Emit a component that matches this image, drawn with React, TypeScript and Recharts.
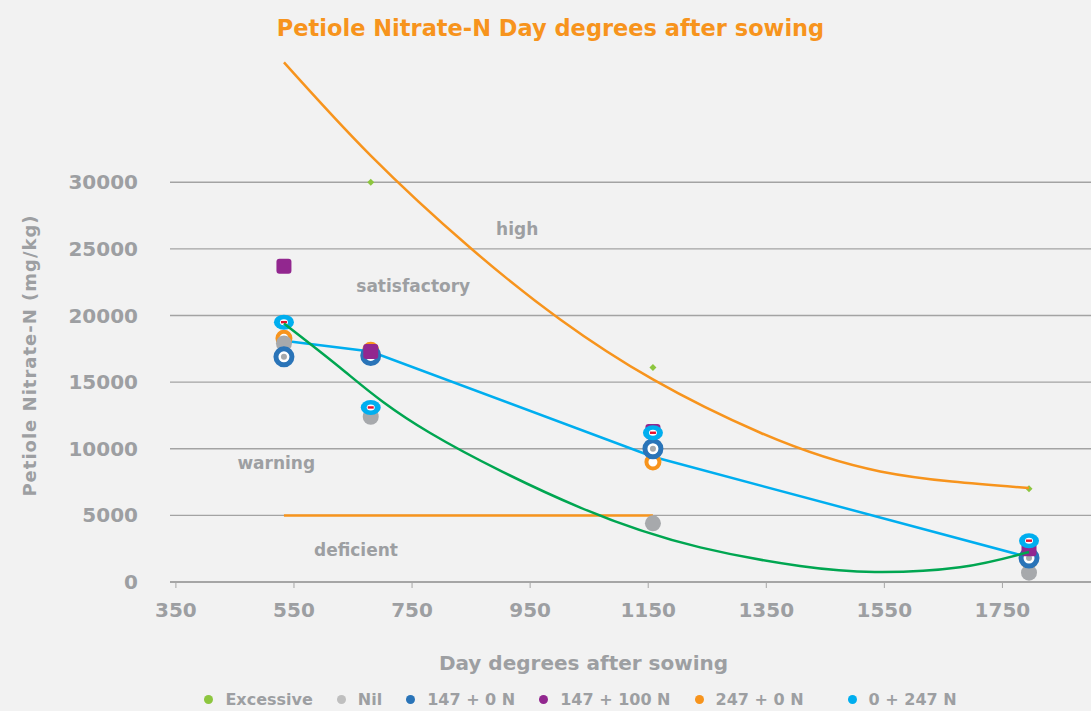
import React from 'react';
import {
  ComposedChart,
  XAxis,
  YAxis,
  CartesianGrid,
  Scatter,
  Line,
  Legend,
  ReferenceDot,
  Label,
} from 'recharts';

// ---- data ----
const seriesNames = ['Excessive', 'Nil', '147 + 0 N', '147 + 100 N', '247 + 0 N', '0 + 247 N'];
const dayDegrees = [533, 680, 1158, 1795];
const excessiveDays = [680, 1158, 1795];
const excessive = [30000, 16100, 7000];
const nil = [17900, 12400, 4400, 700];
const n147plus0 = [16900, 17000, 10000, 1800];
const n147plus100 = [23700, 17300, 11300, 2500];
const n247plus0 = [18300, 17400, 9000, 1600];
const n0plus247 = [19500, 13100, 11200, 3100];

const blueTrend = [18100, 17300, 9400, 1850];
const greenTrendDays = [533, 636, 780, 1034, 1238, 1407, 1534, 1678, 1795];
const greenTrend = [19400, 15800, 11200, 5600, 2600, 1200, 750, 1100, 2250];
const orangeTrendDays = [533, 680, 848, 1001, 1158, 1340, 1543, 1795];
const orangeTrend = [39000, 32000, 25100, 19700, 15200, 11200, 8300, 7050];
const deficientDays = [533, 1158];
const deficientLine = [5000, 5000];

const xTicks = [350, 550, 750, 950, 1150, 1350, 1550, 1750];
const yTicks = [0, 5000, 10000, 15000, 20000, 25000, 30000];

const zoneNames = ['high', 'satisfactory', 'warning', 'deficient'];
const zoneDays = [928, 752, 520, 655];
const zoneValues = [26500, 22200, 8900, 2400];

// ---- styles ----
const FONT = '"DejaVu Sans", Verdana, sans-serif';
const TEXT = '#9d9fa2';
const ORANGE = '#f7941d';
const LIGHT_BLUE = '#00aeef';
const DARK_BLUE = '#2a74b8';
const PURPLE = '#92278f';
const GRAY = '#a7a9ac';
const EXC_GREEN = '#8dc63f';
const TREND_GREEN = '#00a651';
const BG = '#f2f2f2';

const pts = (xs: number[], ys: number[]) => xs.map((x, i) => ({ x, y: ys[i] }));

const ExcessiveShape = (p: any) => {
  const { cx, cy } = p;
  return (
    <polygon
      points={`${cx},${cy - 3.5} ${cx + 3.5},${cy} ${cx},${cy + 3.5} ${cx - 3.5},${cy}`}
      fill={EXC_GREEN}
    />
  );
};
const NilShape = (p: any) => <circle cx={p.cx} cy={p.cy} r={8} fill={GRAY} />;
const DarkBlueShape = (p: any) => (
  <g>
    <circle cx={p.cx} cy={p.cy} r={8} fill="#ffffff" stroke={DARK_BLUE} strokeWidth={5} />
    <circle cx={p.cx} cy={p.cy} r={3} fill={GRAY} />
  </g>
);
const PurpleShape = (p: any) => (
  <rect x={p.cx - 7.5} y={p.cy - 7.5} width={15} height={15} rx={3} fill={PURPLE} />
);
const OrangeShape = (p: any) => (
  <circle cx={p.cx} cy={p.cy} r={6.5} fill="#ffffff" stroke={ORANGE} strokeWidth={4} />
);
const LightBlueShape = (p: any) => (
  <g>
    <ellipse cx={p.cx} cy={p.cy} rx={10} ry={7.5} fill={LIGHT_BLUE} />
    <ellipse cx={p.cx} cy={p.cy} rx={4} ry={3} fill="#ffffff" />
    <rect x={p.cx - 3} y={p.cy - 1.2} width={6} height={2.4} fill="#e8112d" />
  </g>
);

const renderLegend = (props: any) => {
  const items = (props.payload || [])
    .filter((it: any) => it.type !== 'none' && seriesNames.indexOf(it.value) >= 0)
    .sort((a: any, b: any) => seriesNames.indexOf(a.value) - seriesNames.indexOf(b.value));
  return (
    <div
      style={{
        display: 'flex',
        justifyContent: 'center',
        alignItems: 'center',
        fontFamily: FONT,
        fontWeight: 'bold',
        fontSize: 16,
        color: TEXT,
        paddingLeft: 70,
      }}
    >
      {items.map((it: any, i: number) => (
        <div
          key={it.value}
          style={{
            display: 'flex',
            alignItems: 'center',
            margin: i === items.length - 1 ? '0 12px 0 32px' : '0 12px',
          }}
        >
          <span
            style={{
              display: 'inline-block',
              width: 9,
              height: 9,
              borderRadius: '50%',
              background: it.color,
              marginRight: 12,
            }}
          />
          <span>{it.value}</span>
        </div>
      ))}
    </div>
  );
};

const tickStyle = { fill: TEXT, fontSize: 20, fontWeight: 'bold', fontFamily: FONT };

export default function App() {
  return (
    <div
      style={{
        position: 'absolute',
        left: 0,
        top: 0,
        width: 1091,
        height: 711,
        background: BG,
        overflow: 'hidden',
      }}
    >
      <div
        style={{
          position: 'absolute',
          top: 15,
          left: 0,
          width: 1091,
          paddingLeft: 10,
          boxSizing: 'border-box',
          textAlign: 'center',
          fontFamily: FONT,
          fontWeight: 'bold',
          fontSize: 22.5,
          lineHeight: '26px',
          color: ORANGE,
        }}
      >
        Petiole Nitrate-N Day degrees after sowing
      </div>
      <ComposedChart
        width={1091}
        height={711}
        margin={{ top: 49, right: 0, bottom: 0, left: 0 }}
        style={{ position: 'absolute', left: 0, top: 0 }}
      >
        <CartesianGrid vertical={false} horizontalValues={yTicks} stroke="#a3a3a3" strokeWidth={1.3} />
        <XAxis
          type="number"
          dataKey="x"
          domain={[340, 1900]}
          ticks={xTicks}
          allowDataOverflow
          height={129}
          tickSize={6}
          tickMargin={15}
          axisLine={{ stroke: '#a6a6a6', strokeWidth: 2 }}
          tickLine={{ stroke: '#a6a6a6' }}
          tick={tickStyle}
        >
          <Label
            value="Day degrees after sowing"
            position="center"
            dx={-47}
            dy={16}
            fill={TEXT}
            fontSize={20}
            fontWeight="bold"
            fontFamily={FONT}
          />
        </XAxis>
        <YAxis
          type="number"
          dataKey="y"
          domain={[0, 40000]}
          ticks={yTicks}
          allowDataOverflow
          width={170}
          axisLine={false}
          tickLine={false}
          tickSize={0}
          tickMargin={32}
          tick={tickStyle}
        >
          <Label
            value="Petiole Nitrate-N (mg/kg)"
            angle={-90}
            position="center"
            dx={-55}
            dy={40}
            fill={TEXT}
            fontSize={18}
            fontWeight="bold"
            fontFamily={FONT}
            letterSpacing={1}
          />
        </YAxis>

        <Line
          data={pts(dayDegrees, blueTrend)}
          dataKey="y"
          type="linear"
          stroke={LIGHT_BLUE}
          strokeWidth={2.5}
          dot={false}
          activeDot={false}
          legendType="none"
          isAnimationActive={false}
        />

        <Scatter name={seriesNames[0]} data={pts(excessiveDays, excessive)} fill={EXC_GREEN} shape={ExcessiveShape} isAnimationActive={false} />
        <Scatter name={seriesNames[4]} data={pts(dayDegrees, n247plus0)} fill={ORANGE} shape={OrangeShape} isAnimationActive={false} />
        <Scatter name={seriesNames[1]} data={pts(dayDegrees, nil)} fill="#bfbfbf" shape={NilShape} isAnimationActive={false} />
        <Scatter name={seriesNames[2]} data={pts(dayDegrees, n147plus0)} fill={DARK_BLUE} shape={DarkBlueShape} isAnimationActive={false} />
        <Scatter name={seriesNames[3]} data={pts(dayDegrees, n147plus100)} fill={PURPLE} shape={PurpleShape} isAnimationActive={false} />
        <Scatter name={seriesNames[5]} data={pts(dayDegrees, n0plus247)} fill={LIGHT_BLUE} shape={LightBlueShape} isAnimationActive={false} />

        <Line
          data={pts(greenTrendDays, greenTrend)}
          dataKey="y"
          type="natural"
          stroke={TREND_GREEN}
          strokeWidth={2.5}
          dot={false}
          activeDot={false}
          legendType="none"
          isAnimationActive={false}
          zIndex={700}
        />
        <Line
          data={pts(orangeTrendDays, orangeTrend)}
          dataKey="y"
          type="natural"
          stroke={ORANGE}
          strokeWidth={2.5}
          dot={false}
          activeDot={false}
          legendType="none"
          isAnimationActive={false}
          zIndex={700}
        />
        <Line
          data={pts(deficientDays, deficientLine)}
          dataKey="y"
          type="linear"
          stroke={ORANGE}
          strokeWidth={2.5}
          dot={false}
          activeDot={false}
          legendType="none"
          isAnimationActive={false}
        />

        {zoneNames.map((name, i) => (
          <ReferenceDot
            key={name}
            x={zoneDays[i]}
            y={zoneValues[i]}
            r={0}
            fill="none"
            stroke="none"
            label={{
              value: name,
              position: 'center',
              fill: TEXT,
              fontSize: 17,
              fontWeight: 'bold',
              fontFamily: FONT,
            }}
          />
        ))}

        <Legend
          layout="horizontal"
          verticalAlign="middle"
          align="center"
          content={renderLegend}
          wrapperStyle={{ top: 690, left: 0, width: 1091, height: 24 }}
        />
      </ComposedChart>
    </div>
  );
}
